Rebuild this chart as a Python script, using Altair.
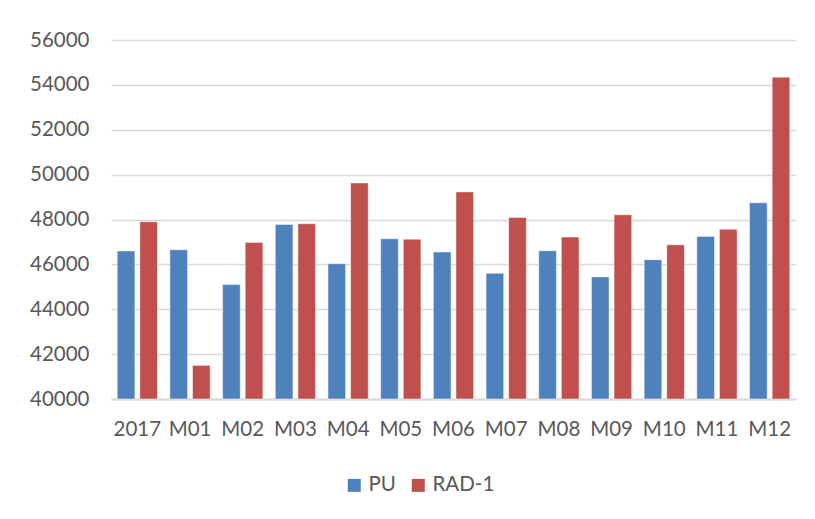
import altair as alt
import pandas as pd

categories = ["2017", "M01", "M02", "M03", "M04", "M05", "M06", "M07", "M08", "M09", "M10", "M11", "M12"]
pu = [46600, 46650, 45100, 47780, 46030, 47140, 46550, 45600, 46610, 45440, 46210, 47245, 48745]
rad1 = [47900, 41500, 46980, 47810, 49630, 47125, 49230, 48090, 47215, 48210, 46875, 47570, 54345]
series = ["PU", "RAD-1"]
colors = ["#4F81BD", "#C0504D"]
y_ticks = [40000, 42000, 44000, 46000, 48000, 50000, 52000, 54000, 56000]

rows = []
for c, a, b in zip(categories, pu, rad1):
    rows.append({"cat": c, "series": series[0], "value": a})
    rows.append({"cat": c, "series": series[1], "value": b})
df = pd.DataFrame(rows)

FONT = "Lato"
W, H = 685, 359

bars = alt.Chart(df).mark_bar(stroke="#ffffff", strokeWidth=0.8, strokeOpacity=0.6).encode(
    x=alt.X("cat:N", sort=categories, title=None,
            scale=alt.Scale(paddingInner=0.236, paddingOuter=0.118),
            axis=alt.Axis(labelAngle=0, ticks=False, domain=True, domainColor="#d9d9d9",
                          domainWidth=2, labelPadding=20, labelFontSize=20.5,
                          labelFont=FONT, labelColor="#595959", grid=False)),
    xOffset=alt.XOffset("series:N", sort=series,
                        scale=alt.Scale(paddingInner=0.22, paddingOuter=0)),
    y=alt.Y("value:Q", title=None,
            scale=alt.Scale(domain=[y_ticks[0], y_ticks[-1]], zero=False, nice=False),
            axis=alt.Axis(values=y_ticks, format="d", ticks=False, domain=False,
                          labelPadding=22, labelFontSize=20.5, labelFont=FONT,
                          labelColor="#595959", grid=True, gridColor="#d9d9d9",
                          gridWidth=1.6)),
    y2=alt.datum(y_ticks[0]),
    color=alt.Color("series:N", sort=series,
                    scale=alt.Scale(domain=series, range=colors),
                    legend=alt.Legend(title=None, orient="none", direction="horizontal",
                                      legendX=233, legendY=435, symbolType="square",
                                      symbolSize=169, symbolStrokeWidth=0,
                                      labelFontSize=20.5, labelFont=FONT,
                                      labelColor="#595959", labelOffset=4,
                                      columnPadding=12)),
)

chart = bars.properties(
    width=W, height=H,
    background="white",
    autosize=alt.AutoSizeParams(type="none"),
    padding={"left": 103, "top": 32, "right": 10, "bottom": 110},
).configure_view(stroke="transparent", strokeOpacity=0)

chart.save("out.html", embed_options={"renderer": "svg", "actions": False})
